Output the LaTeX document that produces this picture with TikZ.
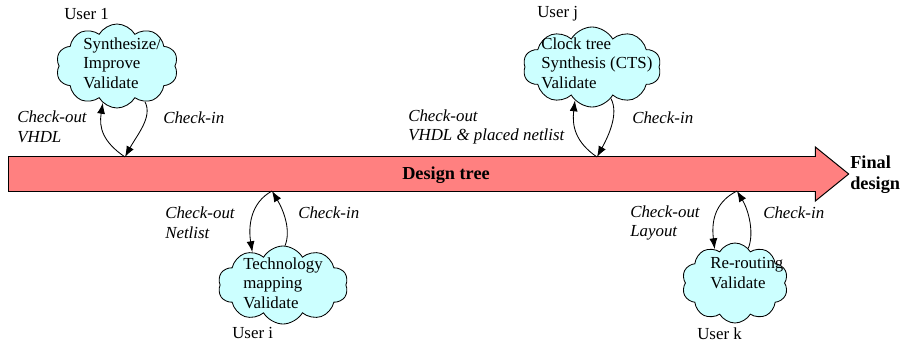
\documentclass[tikz,border=0pt]{standalone}
\usepackage{fontspec}
\setmainfont{Liberation Serif}
\usepackage{tikz}
\usetikzlibrary{shapes.symbols, shapes.arrows, positioning, arrows.meta, calc}

\definecolor{barred}{HTML}{FF8080}
\definecolor{cloudcyan}{HTML}{CCFFFF}

\begin{document}
\begin{tikzpicture}[
        x=0.025cm, y=-0.025cm,
        treebar/.style={single arrow, draw, fill=barred, line width=0.7pt, minimum height=21cm, single arrow head extend=0.2375cm, single arrow tip angle=78, text height=0.3cm, text depth=0.1cm, inner ysep=0.225cm, inner xsep=0pt},
        bartext/.style={font=\bfseries\fontsize{13}{15}\selectfont, inner sep=0pt},
        usercloud/.style={draw, cloud, cloud puffs=10, cloud puff arc=120, cloud ignores aspect, fill=cloudcyan, line width=0.6pt, inner sep=0pt},
        task/.style={align=left, anchor=west, inner sep=0pt, font=\fontsize{12}{14}\selectfont},
        user/.style={anchor=west, inner sep=0pt, font=\fontsize{12}{14}\selectfont},
        check/.style={align=left, anchor=west, inner sep=0pt, font=\itshape\fontsize{12}{14}\selectfont},
        arrow/.style={-{Latex[length=2.7mm, width=2mm]}, line width=0.6pt}
      ]
      \useasboundingbox (0,0) rectangle (902,343);

      % design tree bar
      \node[treebar, anchor=tail] (tree) at (8,174) {};
      \node[bartext] (treelbl) at (446,175) {Design tree};
      \node[bartext, align=left, anchor=west] (final) at (850,175) {Final\\design};

      % attach points on the bar
      \coordinate (top1) at (125,157);
      \coordinate (topj) at (597,157);
      \coordinate (boti) at (272,191);
      \coordinate (botk) at (737,191);

      % user 1
      \node[usercloud, minimum width=3.05cm, minimum height=2.1cm] (cloud1) at (117,66) {};
      \node[task] (task1) at (83,63) {Synthesize/\\Improve\\Validate};
      \node[user] (user1) at (64,14) {User 1};
      \node[check] (out1) at (17,127) {Check-out\\VHDL};
      \node[check] (in1) at (163,118) {Check-in};

      % user j
      \node[usercloud, minimum width=3.45cm, minimum height=2cm] (cloudj) at (592,67) {};
      \node[task] (taskj) at (541,63) {Clock tree\\Synthesis (CTS)\\Validate};
      \node[user] (userj) at (537,14) {User j};
      \node[check] (outj) at (408,127) {Check-out\\VHDL \& placed netlist};
      \node[check] (inj) at (632,118) {Check-in};

      % user i
      \node[usercloud, minimum width=3.25cm, minimum height=1.95cm] (cloudi) at (283,285) {};
      \node[task] (taski) at (243,283) {Technology\\mapping\\Validate};
      \node[user] (useri) at (232,333) {User i};
      \node[check] (outi) at (165,223) {Check-out\\Netlist};
      \node[check] (ini) at (298,213) {Check-in};

      % user k
      \node[usercloud, minimum width=2.65cm, minimum height=2cm] (cloudk) at (735,283) {};
      \node[task] (taskk) at (710,273) {Re-routing\\Validate};
      \node[user] (userk) at (697,334) {User k};
      \node[check] (outk) at (630,223) {Check-out\\Layout};
      \node[check] (ink) at (763,213) {Check-in};

      % check-out / check-in edges
      \draw[arrow] (top1) .. controls +(-22,-15) and +(-4,25) .. (cloud1.249);
      \draw[arrow] (cloud1.308) .. controls +(8,15) and +(12,-22) .. (top1);
      \draw[arrow] (topj) .. controls +(-22,-15) and +(-3,25) .. (cloudj.243);
      \draw[arrow] (cloudj.301) .. controls +(8,15) and +(12,-22) .. (topj);
      \draw[arrow] (boti) .. controls +(-22,12) and +(-4,-25) .. (cloudi.133);
      \draw[arrow] (cloudi.87) .. controls +(6,-15) and +(12,20) .. (boti);
      \draw[arrow] (botk) .. controls +(-24,12) and +(-3,-25) .. (cloudk.121);
      \draw[arrow] (cloudk.69) .. controls +(6,-15) and +(12,20) .. (botk);

\end{tikzpicture}
\end{document}
